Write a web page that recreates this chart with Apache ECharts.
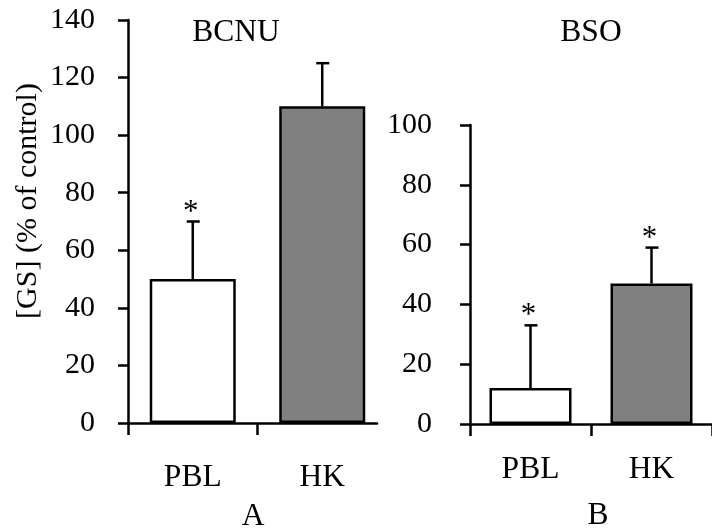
<!DOCTYPE html>
<html><head><meta charset="utf-8">
<script src="https://cdn.jsdelivr.net/npm/echarts@6/dist/echarts.min.js"></script>
<style>html,body{margin:0;padding:0;background:#fff}#c{width:712px;height:532px}</style>
</head><body><div id="c"></div>
<script>
// ---- data ----
const categories = ['PBL', 'HK'];
const panelTitles = ['BCNU', 'BSO'];
const panelLetters = ['A', 'B'];
const yAxisName = '[GS] (% of control)';
const meanA = [50, 110];
const errA = [20, 15];
const sigA = [1, 0];
const meanB = [12, 47];
const errB = [21, 12];
const sigB = [1, 1];
const yRangeA = [0, 140, 20];
const yRangeB = [0, 100, 20];
const barColors = ['#ffffff', '#808080'];

const FONT = "'Liberation Serif','Times New Roman',serif";
const LW = 2.5;
const FS_TICK = 30;
const FS_TEXT = 31.5;

function errRender(params, api) {
  const i = api.value(0), v = api.value(1), e = api.value(2), s = api.value(3);
  const p0 = api.coord([i, v]);
  const p1 = api.coord([i, v + e]);
  const st = { stroke: '#000', lineWidth: LW, fill: null };
  const children = [
    { type: 'line', shape: { x1: p0[0], y1: p0[1], x2: p1[0], y2: p1[1] }, style: st },
    { type: 'line', shape: { x1: p1[0] - 6, y1: p1[1], x2: p1[0] + 7, y2: p1[1] }, style: st }
  ];
  if (s) {
    children.push({ type: 'text', x: p1[0] - 2, y: p1[1] - 9,
      style: { text: '*', fill: '#000', font: '31px ' + FONT, align: 'center', verticalAlign: 'middle', textAlign: 'center', textVerticalAlign: 'middle' } });
  }
  return { type: 'group', children };
}

const axisLineCfg = { show: true, onZero: false, lineStyle: { color: '#000', width: LW } };
const labelCfg = (fs, margin) => ({ color: '#000', fontSize: fs, fontFamily: FONT, margin: margin });

// Panel A: value-type x axis so the axis line can stop short of the last band edge
const xAxisA = {
  type: 'value', gridIndex: 0, min: -0.5, max: 1.4228,
  axisLine: axisLineCfg,
  axisTick: { show: true, length: 12, lineStyle: { color: '#000', width: LW }, customValues: [-0.5, 0.5] },
  axisLabel: Object.assign(labelCfg(FS_TEXT, 39), { customValues: [0, 1], formatter: v => categories[Math.round(v)] }),
  splitLine: { show: false }
};
const xAxisB = {
  type: 'category', gridIndex: 1, data: categories,
  axisLine: axisLineCfg,
  axisTick: { show: true, length: 12, lineStyle: { color: '#000', width: LW } },
  axisLabel: labelCfg(FS_TEXT, 30),
  splitLine: { show: false }
};
function yAxisCfg(grid, r, margin) {
  return {
    type: 'value', gridIndex: grid, min: r[0], max: r[1], interval: r[2],
    axisLine: axisLineCfg,
    axisTick: { show: true, length: 10, lineStyle: { color: '#000', width: LW } },
    axisLabel: labelCfg(FS_TICK, margin),
    splitLine: { show: false }
  };
}
function barSeries(idx, means, bw) {
  return {
    type: 'bar', xAxisIndex: idx, yAxisIndex: idx, barWidth: bw,
    data: means.map((v, i) => ({ value: [i, v], itemStyle: { color: barColors[i] } })),
    encode: { x: 0, y: 1 },
    itemStyle: { borderColor: '#000', borderWidth: LW },
    silent: true, animation: false
  };
}
function errSeries(idx, means, errs, sigs) {
  return {
    type: 'custom', xAxisIndex: idx, yAxisIndex: idx, z: 10,
    renderItem: errRender, encode: { x: 0, y: 1 },
    data: means.map((v, i) => [i, v, errs[i], sigs[i]]),
    silent: true, animation: false
  };
}
function txt(t, x, y, fs, rot) {
  return { type: 'text', x: x, y: y, rotation: rot || 0,
    style: { text: t, fill: '#000', font: fs + 'px ' + FONT, align: 'center', verticalAlign: 'middle', textAlign: 'center', textVerticalAlign: 'middle' } };
}

const chart = echarts.init(document.getElementById('c'), null, { renderer: 'canvas' });
chart.setOption({
  backgroundColor: '#fff',
  animation: false,
  grid: [
    { left: 128, top: 20, width: 249, height: 403 },
    { left: 470, top: 125, width: 242, height: 299 }
  ],
  xAxis: [xAxisA, xAxisB],
  yAxis: [yAxisCfg(0, yRangeA, 33), yAxisCfg(1, yRangeB, 38)],
  series: [
    barSeries(0, meanA, 86), errSeries(0, meanA, errA, sigA),
    barSeries(1, meanB, 82), errSeries(1, meanB, errB, sigB)
  ],
  graphic: [
    txt(panelTitles[0], 236, 33, FS_TEXT),
    txt(panelTitles[1], 591, 33, FS_TEXT),
    txt(panelLetters[0], 253, 517, FS_TEXT),
    txt(panelLetters[1], 598, 516, FS_TEXT),
    txt(yAxisName, 28, 201, 30, Math.PI / 2)
  ]
});
</script></body></html>
